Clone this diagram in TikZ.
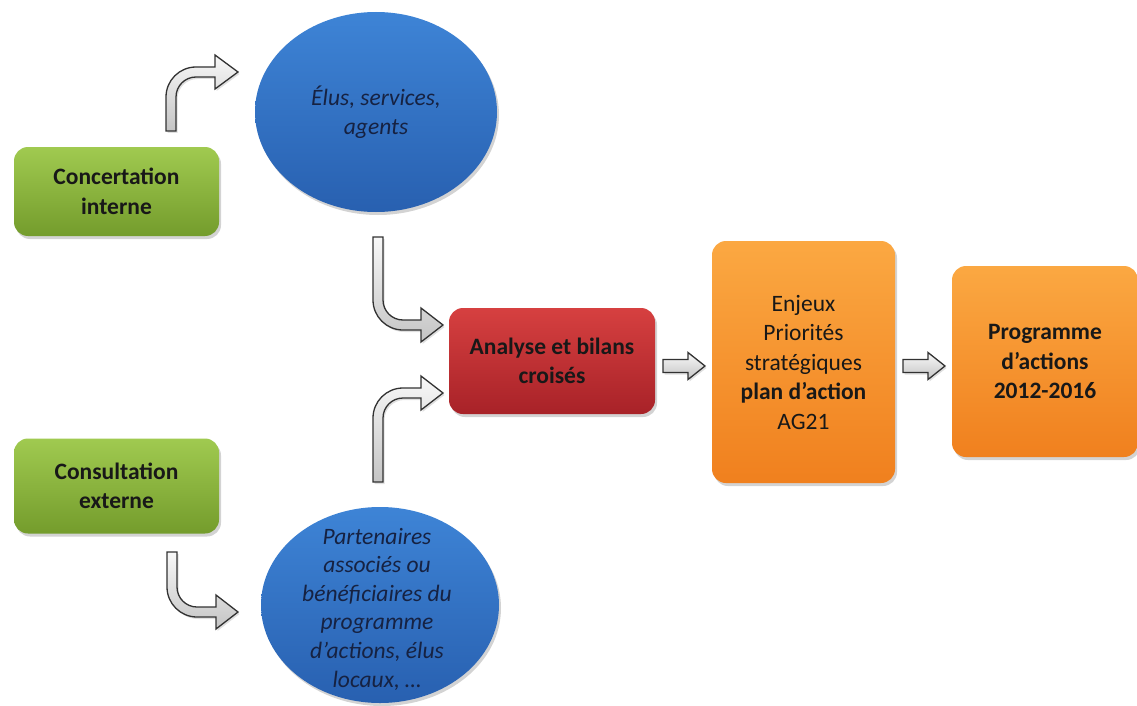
\documentclass[tikz,border=0pt]{standalone}
\usepackage{fontspec}
\setmainfont{Carlito}
\usetikzlibrary{shapes.geometric,shadows}
\definecolor{grtop}{RGB}{160,202,80}
\definecolor{grbot}{RGB}{116,156,44}
\definecolor{rdtop}{RGB}{214,64,64}
\definecolor{rdbot}{RGB}{168,34,40}
\definecolor{ortop}{RGB}{251,168,66}
\definecolor{orbot}{RGB}{240,128,30}
\definecolor{bltop}{RGB}{62,132,214}
\definecolor{blbot}{RGB}{40,96,176}
\definecolor{txt}{RGB}{24,24,24}
\definecolor{eltxt}{RGB}{22,34,66}
\definecolor{arline}{RGB}{50,50,50}
\definecolor{artop}{RGB}{248,248,248}
\definecolor{arbot}{RGB}{196,196,196}
\begin{document}
\begin{tikzpicture}[x=1pt,y=-1pt,
  shadowed/.style={drop shadow={opacity=0.35,shadow xshift=2pt,shadow yshift=-3pt}},
  boxbase/.style={shadowed,rounded corners=14pt,inner sep=0pt,align=center,text=txt,
    font=\fontsize{23.5}{29.5}\selectfont},
  greenbox/.style={boxbase,top color=grtop,bottom color=grbot,
    minimum width=205pt,font=\fontsize{23.5}{29.5}\selectfont\bfseries},
  redbox/.style={boxbase,top color=rdtop,bottom color=rdbot,
    font=\fontsize{23.5}{29.5}\selectfont\bfseries},
  orangebox/.style={boxbase,top color=ortop,bottom color=orbot},
  blueell/.style={shadowed,ellipse,inner sep=0pt,align=center,top color=bltop,bottom color=blbot,
    text=eltxt,font=\fontsize{23.5}{29.5}\selectfont\itshape},
  elltext/.style={align=center,text=eltxt,inner sep=0pt,font=\fontsize{23.5}{28.6}\selectfont\itshape},
  blockarrow/.style={draw=arline,line width=1.3pt,line join=miter,top color=artop,bottom color=arbot,
    drop shadow={opacity=0.25,shadow xshift=1.5pt,shadow yshift=-2pt}}
]
\useasboundingbox (0,0) rectangle (1137,706);

% nodes
\node[greenbox,minimum height=89pt] (gtop) at (116.5,191.5) {Concertation\\interne};
\node[greenbox,minimum height=95pt] (gbot) at (116.5,486) {Consultation\\externe};
\node[blueell,minimum width=242pt,minimum height=200pt] (etop) at (376,112)
  {Élus, services,\\agents};
\node[blueell,minimum width=238pt,minimum height=196pt] (ebot) at (380,605) {};
\node[elltext] (ebottext) at (377,609)
  {Partenaires\\associés ou\\bénéficiaires du\\programme\\d’actions, élus\\locaux, …};
\node[redbox,minimum width=206pt,minimum height=106pt] (red) at (552,361)
  {Analyse et bilans\\croisés};
\node[orangebox,minimum width=183pt,minimum height=242pt] (or1) at (803.5,362)
  {Enjeux\\Priorités\\stratégiques\\\textbf{plan d’action}\\AG21};
\node[orangebox,minimum width=186pt,minimum height=191pt,font=\fontsize{23.5}{29.5}\selectfont\bfseries] (or2) at (1045,361.5)
  {Programme\\d’actions\\2012-2016};

% bent block arrows
\coordinate (a1) at (171,131);
\path[blockarrow] (a1) ++(-5,0) -- ++(0,-34) arc[start angle=180,end angle=270,radius=30]
  -- ++(19,0) -- ++(0,-12) -- ++(23,17) -- ++(-23,17) -- ++(0,-12) -- ++(-19,0)
  arc[start angle=270,end angle=180,radius=20] -- ++(0,34) -- cycle;

\coordinate (a2) at (378,237);
\path[blockarrow] (a2) ++(-5,0) -- ++(0,63) arc[start angle=180,end angle=90,radius=30]
  -- ++(18,0) -- ++(0,12) -- ++(22,-17) -- ++(-22,-17) -- ++(0,12) -- ++(-18,0)
  arc[start angle=90,end angle=180,radius=20] -- ++(0,-63) -- cycle;

\coordinate (a3) at (378,482);
\path[blockarrow] (a3) ++(-5,0) -- ++(0,-64) arc[start angle=180,end angle=270,radius=30]
  -- ++(18,0) -- ++(0,-12) -- ++(22,17) -- ++(-22,17) -- ++(0,-12) -- ++(-18,0)
  arc[start angle=270,end angle=180,radius=20] -- ++(0,64) -- cycle;

\coordinate (a4) at (172,552);
\path[blockarrow] (a4) ++(-5,0) -- ++(0,35) arc[start angle=180,end angle=90,radius=30]
  -- ++(19,0) -- ++(0,12) -- ++(22,-17) -- ++(-22,-17) -- ++(0,12) -- ++(-19,0)
  arc[start angle=90,end angle=180,radius=20] -- ++(0,-35) -- cycle;

% straight block arrows
\coordinate (s1) at (663,366);
\path[blockarrow] (s1) ++(0,-6.5) -- ++(25,0) -- ++(0,-7) -- ++(17,13.5) -- ++(-17,13.5)
  -- ++(0,-7) -- ++(-25,0) -- cycle;
\coordinate (s2) at (903,366);
\path[blockarrow] (s2) ++(0,-6.5) -- ++(25,0) -- ++(0,-7) -- ++(17,13.5) -- ++(-17,13.5)
  -- ++(0,-7) -- ++(-25,0) -- cycle;
\end{tikzpicture}
\end{document}
